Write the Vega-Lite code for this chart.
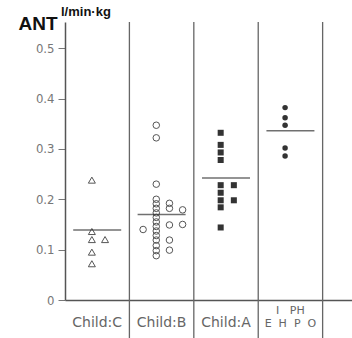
{
  "$schema": "https://vega.github.io/schema/vega-lite/v6.json",
  "width": 287,
  "height": 278,
  "autosize": {"type": "none"},
  "padding": {"left": 65, "top": 22, "right": 0, "bottom": 38},
  "background": "white",
  "config": {"view": {"stroke": null}},
  "title": {"text": "l/min·kg", "anchor": "start", "frame": "group", "dx": -4, "offset": -15, "font": "Liberation Sans", "fontSize": 13, "fontWeight": "bold", "color": "#111", "baseline": "alphabetic"},
  "datasets": {
    "pts": [
      {"g": "Child:C", "v": 0.238, "slot": 0},
      {"g": "Child:C", "v": 0.136, "slot": 0},
      {"g": "Child:C", "v": 0.120, "slot": 0},
      {"g": "Child:C", "v": 0.120, "slot": 1},
      {"g": "Child:C", "v": 0.095, "slot": 0},
      {"g": "Child:C", "v": 0.072, "slot": 0},
      {"g": "Child:B", "v": 0.347, "slot": 0},
      {"g": "Child:B", "v": 0.322, "slot": 0},
      {"g": "Child:B", "v": 0.230, "slot": 0},
      {"g": "Child:B", "v": 0.200, "slot": 0},
      {"g": "Child:B", "v": 0.191, "slot": 0},
      {"g": "Child:B", "v": 0.182, "slot": 0},
      {"g": "Child:B", "v": 0.173, "slot": 0},
      {"g": "Child:B", "v": 0.164, "slot": 0},
      {"g": "Child:B", "v": 0.155, "slot": 0},
      {"g": "Child:B", "v": 0.146, "slot": 0},
      {"g": "Child:B", "v": 0.137, "slot": 0},
      {"g": "Child:B", "v": 0.128, "slot": 0},
      {"g": "Child:B", "v": 0.119, "slot": 0},
      {"g": "Child:B", "v": 0.108, "slot": 0},
      {"g": "Child:B", "v": 0.098, "slot": 0},
      {"g": "Child:B", "v": 0.088, "slot": 0},
      {"g": "Child:B", "v": 0.192, "slot": 1},
      {"g": "Child:B", "v": 0.182, "slot": 1},
      {"g": "Child:B", "v": 0.149, "slot": 1},
      {"g": "Child:B", "v": 0.119, "slot": 1},
      {"g": "Child:B", "v": 0.099, "slot": 1},
      {"g": "Child:B", "v": 0.179, "slot": 2},
      {"g": "Child:B", "v": 0.150, "slot": 2},
      {"g": "Child:B", "v": 0.140, "slot": -1},
      {"g": "Child:A", "v": 0.332, "slot": 0},
      {"g": "Child:A", "v": 0.308, "slot": 0},
      {"g": "Child:A", "v": 0.293, "slot": 0},
      {"g": "Child:A", "v": 0.278, "slot": 0},
      {"g": "Child:A", "v": 0.228, "slot": 0},
      {"g": "Child:A", "v": 0.213, "slot": 0},
      {"g": "Child:A", "v": 0.198, "slot": 0},
      {"g": "Child:A", "v": 0.184, "slot": 0},
      {"g": "Child:A", "v": 0.144, "slot": 0},
      {"g": "Child:A", "v": 0.228, "slot": 1},
      {"g": "Child:A", "v": 0.198, "slot": 1},
      {"g": "IPH EHPO", "v": 0.382, "slot": 0},
      {"g": "IPH EHPO", "v": 0.362, "slot": 0},
      {"g": "IPH EHPO", "v": 0.347, "slot": 0},
      {"g": "IPH EHPO", "v": 0.302, "slot": 0},
      {"g": "IPH EHPO", "v": 0.286, "slot": 0}
    ],
    "means": [
      {"g": "Child:C", "v": 0.139},
      {"g": "Child:B", "v": 0.170},
      {"g": "Child:A", "v": 0.242},
      {"g": "IPH EHPO", "v": 0.336}
    ],
    "starts": [
      {"g": "Child:B"},
      {"g": "Child:A"},
      {"g": "IPH EHPO"}
    ],
    "ends": [
      {"g": "IPH EHPO"}
    ]
  },
  "layer": [
    {
      "data": {"name": "pts"},
      "transform": [{"filter": "datum.g == 'Child:C' || datum.g == 'Child:B'"}],
      "mark": {"type": "point", "filled": false, "strokeWidth": 1, "opacity": 1},
      "encoding": {
        "x": {
          "field": "g", "type": "nominal",
          "scale": {"type": "band", "domain": ["Child:C", "Child:B", "Child:A", "IPH EHPO"], "paddingInner": 0, "paddingOuter": 0.228, "align": 0},
          "axis": {
            "title": null, "domain": true, "domainColor": "#555", "domainWidth": 1.5, "ticks": false,
            "labelAngle": 0, "labelFont": "DejaVu Sans",
            "labelFontSize": {"condition": {"test": "datum.value == 'IPH EHPO'", "value": 11}, "value": 14},
            "labelPadding": {"condition": {"test": "datum.value == 'IPH EHPO'", "value": 4}, "value": 15},
            "labelColor": "#666", "labelBaseline": "top", "labelLineHeight": 13,
            "labelExpr": "datum.value == 'IPH EHPO' ? ['I\u00a0\u00a0\u00a0PH', 'E\u00a0\u00a0H\u00a0\u00a0P\u00a0\u00a0O'] : datum.value"
          }
        },
        "xOffset": {"field": "slot", "type": "quantitative", "scale": {"domain": [-1, 2], "range": [13.7, 53.2]}},
        "y": {
          "field": "v", "type": "quantitative",
          "scale": {"domain": [0, 0.552], "nice": false, "zero": false},
          "axis": {
            "title": "ANT", "titleAngle": 0, "titleAlign": "left", "titleBaseline": "alphabetic",
            "titleX": -47, "titleY": 7, "titleFont": "Liberation Sans", "titleFontSize": 19, "titleFontWeight": "bold", "titleColor": "#111",
            "values": [0, 0.1, 0.2, 0.3, 0.4, 0.5],
            "labelExpr": "datum.value == 0 ? '0' : format(datum.value, '.1f')",
            "labelFont": "DejaVu Sans Condensed", "labelFontSize": 13, "labelColor": "#777",
            "tickSize": 7, "tickColor": "#777", "labelPadding": 4,
            "domainColor": "#555", "domainWidth": 1.5, "grid": false
          }
        },
        "shape": {"field": "g", "type": "nominal", "legend": null,
          "scale": {"domain": ["Child:C", "Child:B", "Child:A", "IPH EHPO"], "range": ["triangle-up", "circle", "square", "circle"]}},
        "size": {"field": "g", "type": "nominal", "legend": null,
          "scale": {"domain": ["Child:C", "Child:B", "Child:A", "IPH EHPO"], "range": [49, 30, 36, 49]}},
        "color": {"value": "#555"}
      }
    },
    {
      "data": {"name": "pts"},
      "transform": [{"filter": "datum.g == 'Child:A' || datum.g == 'IPH EHPO'"}],
      "mark": {"type": "point", "filled": true, "opacity": 1},
      "encoding": {
        "x": {"field": "g", "type": "nominal"},
        "xOffset": {"field": "slot", "type": "quantitative"},
        "y": {"field": "v", "type": "quantitative"},
        "shape": {"field": "g", "type": "nominal", "legend": null},
        "size": {"field": "g", "type": "nominal", "legend": null},
        "color": {"value": "#333"}
      }
    },
    {
      "data": {"name": "means"},
      "mark": {"type": "tick", "orient": "horizontal", "size": 48, "thickness": 1.5, "color": "#333"},
      "encoding": {
        "x": {"field": "g", "type": "nominal"},
        "y": {"field": "v", "type": "quantitative"}
      }
    },
    {
      "data": {"name": "starts"},
      "mark": {"type": "rule", "color": "#666", "strokeWidth": 1.3, "clip": false},
      "encoding": {
        "x": {"field": "g", "type": "nominal", "bandPosition": 0},
        "y": {"datum": 0.552, "type": "quantitative"},
        "y2": {"datum": -0.076}
      }
    },
    {
      "data": {"name": "ends"},
      "mark": {"type": "rule", "color": "#666", "strokeWidth": 1.3, "clip": false},
      "encoding": {
        "x": {"field": "g", "type": "nominal", "bandPosition": 1},
        "y": {"datum": 0.552, "type": "quantitative"},
        "y2": {"datum": -0.076}
      }
    }
  ]
}
